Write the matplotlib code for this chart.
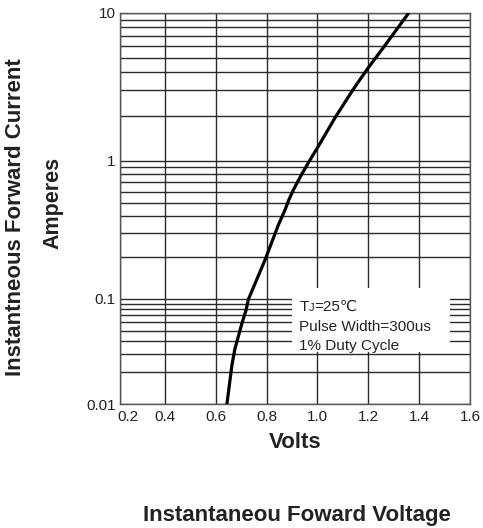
import numpy as np
import matplotlib
matplotlib.use("Agg")
import matplotlib.pyplot as plt
from matplotlib.ticker import FixedLocator, NullFormatter, FixedFormatter
from matplotlib.offsetbox import TextArea, HPacker, VPacker, AnchoredOffsetbox
from matplotlib.patches import Rectangle
import matplotlib.transforms as mtransforms

plt.rcParams['font.family'] = ['Liberation Sans', 'DejaVu Sans']

# ---- data ----
volts = [0.644, 0.664, 0.675, 0.703, 0.719, 0.728, 0.760, 0.796, 0.846, 0.872, 0.887,
         0.905, 0.934, 0.968, 1.006, 1.069, 1.139, 1.158, 1.199, 1.252, 1.301, 1.356]
amps = [0.0102, 0.024, 0.0334, 0.059, 0.0785, 0.099, 0.137, 0.197, 0.344, 0.441, 0.521,
        0.617, 0.778, 1.00, 1.28, 1.96, 3.02, 3.37, 4.25, 5.62, 7.32, 9.84]

x_ticks = [0.223, 0.4, 0.6, 0.8, 1.0, 1.2, 1.4, 1.6]
x_tick_labels = ['0.2', '0.4', '0.6', '0.8', '1.0', '1.2', '1.4', '1.6']
y_ticks = [0.01, 0.1, 1, 10]
y_tick_labels = ['0.01', '0.1', '1', '10']

# chart's own (uneven) decade heights, as drawn in the datasheet
dec_log = [-2, -1, 0, 1]
dec_pos = [0, 105, 243, 391]

def fwd(y):
    y = np.asarray(y, dtype=float)
    return np.interp(np.log10(np.clip(y, 1e-6, None)), dec_log, dec_pos)

def inv(t):
    t = np.asarray(t, dtype=float)
    return 10 ** np.interp(t, dec_pos, dec_log)

fig = plt.figure(figsize=(4.83, 5.28), dpi=100)
ax = fig.add_axes([120/483, 124/528, 350/483, 391/528])

ax.set_yscale('function', functions=(fwd, inv))
ax.set_xlim(0.223, 1.6)
ax.set_ylim(0.01, 10)

gridc = '#2a2a2a'
ax.xaxis.set_major_locator(FixedLocator(x_ticks))
ax.xaxis.set_major_formatter(FixedFormatter(x_tick_labels))
ax.yaxis.set_major_locator(FixedLocator(y_ticks))
ax.yaxis.set_major_formatter(FixedFormatter(y_tick_labels))
minors = [m * d for d in (0.01, 0.1, 1) for m in range(2, 10)]
ax.yaxis.set_minor_locator(FixedLocator(minors))
ax.yaxis.set_minor_formatter(NullFormatter())

ax.grid(True, which='major', axis='both', color=gridc, lw=1.0)
ax.grid(True, which='minor', axis='y', color=gridc, lw=1.0)
ax.set_axisbelow(True)
ax.tick_params(which='both', length=0, labelsize=11, colors='#222222')
ax.tick_params(axis='x', pad=4)
ax.tick_params(axis='y', pad=3)
for s in ax.spines.values():
    s.set_color('#555555')
    s.set_linewidth(1.0)

# shift the first x label slightly right as in the reference
lbl = ax.get_xticklabels()[0]
lbl.set_transform(lbl.get_transform() + mtransforms.ScaledTranslation(8/100, 0, fig.dpi_scale_trans))

ax.plot(volts, amps, color='black', lw=2.3, zorder=4, solid_joinstyle='round')

# white box with the test conditions
ax.add_patch(Rectangle((0.491, 0.133), 0.452, 0.164, transform=ax.transAxes,
                       facecolor='white', edgecolor='none', zorder=2.5))
tp = dict(fontsize=11, color='#222222', family=['Liberation Sans', 'DejaVu Sans'])
tps = dict(fontsize=8, color='#222222', family=['Liberation Sans', 'DejaVu Sans'])
line1 = HPacker(children=[TextArea('T', textprops=tp), TextArea('J', textprops=tps),
                          TextArea('=25℃', textprops=tp)], align='baseline', pad=0, sep=0)
line2 = TextArea('Pulse Width=300us', textprops=tp)
line3 = TextArea('1% Duty Cycle', textprops=tp)
box = VPacker(children=[line1, line2, line3], align='left', pad=0, sep=4)
anch = AnchoredOffsetbox(loc='upper left', child=box, pad=0, borderpad=0, frameon=False,
                         bbox_to_anchor=(0.512, 0.266), bbox_transform=ax.transAxes)
anch.set_zorder(5)
ax.add_artist(anch)

lab = dict(fontsize=16, fontweight='bold', color='#222222')
ax.set_xlabel('Volts', labelpad=6, **lab)
fig.text(16/483, 1 - 217/528, 'Instantneous Forward Current', rotation=90,
         ha='center', va='center', **lab)
fig.text(53/483, 1 - 203/528, 'Amperes', rotation=90, ha='center', va='center',
         fontsize=15.5, fontweight='bold', color='#222222')
fig.text(297/483, 1 - 515/528, 'Instantaneou Foward Voltage', ha='center', va='center', **lab)

fig.savefig('out.png', dpi=100)
